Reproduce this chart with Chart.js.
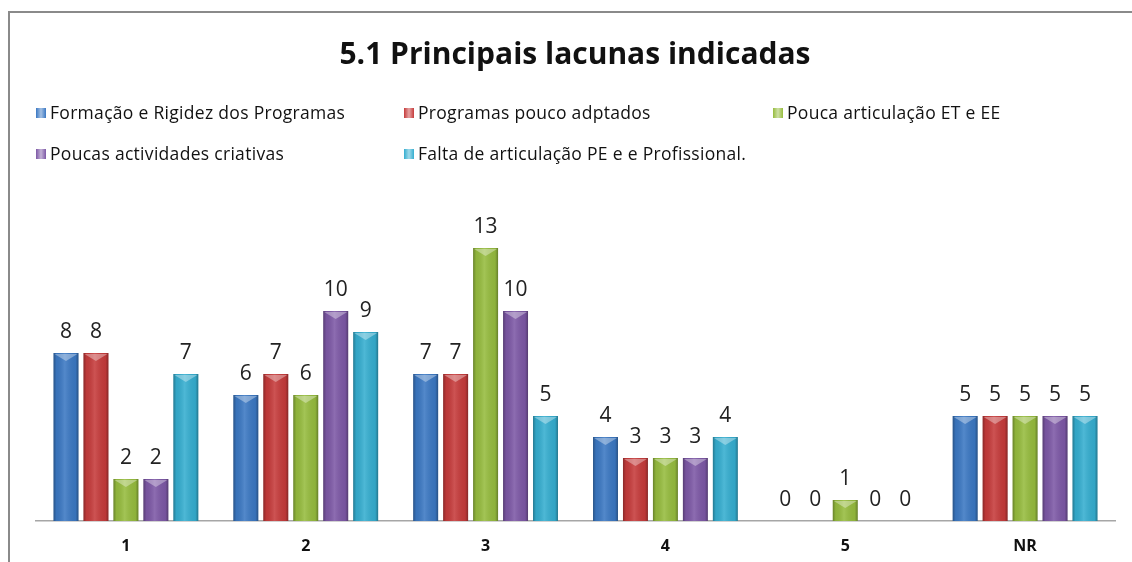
<!DOCTYPE html>
<html>
<head>
<meta charset="utf-8">
<script src="https://cdn.jsdelivr.net/npm/chart.js@4/dist/chart.umd.min.js"></script>
<style>
  html, body { margin: 0; padding: 0; background: #fff; }
  #wrap { position: relative; width: 1132px; height: 562px; overflow: hidden; background: #fff; }
  #frame { position: absolute; left: 8px; top: 11px; width: 1200px; height: 700px; border: 2px solid #8a8a8a; box-sizing: border-box; }
  #title { position: absolute; left: 0; width: 1150px; top: 32px; text-align: center; font-family: "Open Sans", sans-serif; font-weight: 700; font-size: 30px; color: #111; line-height: 42px; }
  .lg { position: absolute; font-family: "Open Sans", sans-serif; font-size: 17.5px; letter-spacing: 0.3px; color: #111; line-height: 20px; white-space: nowrap; }
  .lg i { display: inline-block; width: 10px; height: 10px; margin-right: 4px; vertical-align: 1px; }
  canvas { position: absolute; left: 0; top: 0; }
</style>
</head>
<body>
<div id="wrap">
  <div id="frame"></div>
  <canvas id="c" width="1132" height="562"></canvas>
  <div id="title">5.1 Principais lacunas indicadas</div>
  <div id="legend"></div>
</div>
<script>
const categories = ["1", "2", "3", "4", "5", "NR"];
const seriesNames = [
  "Formação e Rigidez dos Programas",
  "Programas pouco adptados",
  "Pouca articulação ET e EE",
  "Poucas actividades criativas",
  "Falta de articulação PE e e Profissional."
];
const formacaoRigidez = [8, 6, 7, 4, 0, 5];
const programasPoucoAdaptados = [8, 7, 7, 3, 0, 5];
const poucaArticulacaoETEE = [2, 6, 13, 3, 1, 5];
const poucasActividadesCriativas = [2, 10, 10, 3, 0, 5];
const faltaArticulacaoPE = [7, 9, 5, 4, 0, 5];
const seriesValues = [formacaoRigidez, programasPoucoAdaptados, poucaArticulacaoETEE, poucasActividadesCriativas, faltaArticulacaoPE];
const seriesColors = ["#3b78c3", "#c63b3b", "#96bc3e", "#7d58a6", "#35aed0"];

// HTML legend (fixed columns as in the reference)
const legendPos = [[36, 102], [404, 102], [773, 102], [36, 143], [404, 143]];
const lg = document.getElementById('legend');
seriesNames.forEach((n, i) => {
  const d = document.createElement('div');
  d.className = 'lg';
  d.style.left = legendPos[i][0] + 'px';
  d.style.top = legendPos[i][1] + 'px';
  const c = seriesColors[i];
  d.innerHTML = '<i style="background:linear-gradient(90deg,' + c + ' 0%, #ffffff88 50%,' + c + ' 100%);background-color:' + c + '"></i>';
  d.appendChild(document.createTextNode(n));
  lg.appendChild(d);
});

const barStyle = {
  id: 'barStyle',
  afterDatasetsDraw(chart) {
    const ctx = chart.ctx;
    ctx.save();
    chart.data.datasets.forEach((ds, di) => {
      const meta = chart.getDatasetMeta(di);
      meta.data.forEach((el, j) => {
        const v = ds.data[j];
        const left = el.x - el.width / 2, right = el.x + el.width / 2;
        if (v > 0) {
          const g = ctx.createLinearGradient(left, 0, right, 0);
          g.addColorStop(0, 'rgba(0,0,0,0.30)');
          g.addColorStop(0.12, 'rgba(0,0,0,0.05)');
          g.addColorStop(0.45, 'rgba(255,255,255,0.12)');
          g.addColorStop(0.88, 'rgba(0,0,0,0.05)');
          g.addColorStop(1, 'rgba(0,0,0,0.32)');
          ctx.fillStyle = g;
          ctx.fillRect(left, el.y, el.width, el.base - el.y);
          // top bevel
          ctx.fillStyle = 'rgba(255,255,255,0.35)';
          ctx.beginPath();
          ctx.moveTo(left + 1, el.y + 1);
          ctx.lineTo(right - 1, el.y + 1);
          ctx.lineTo(el.x, el.y + 8);
          ctx.closePath();
          ctx.fill();
        }
        // value label
        ctx.fillStyle = '#222';
        ctx.font = '21px "Open Sans", sans-serif';
        ctx.textAlign = 'center';
        ctx.textBaseline = 'alphabetic';
        ctx.fillText(String(v), el.x, el.y - 15);
      });
    });
    ctx.restore();
  }
};

new Chart(document.getElementById('c'), {
  type: 'bar',
  data: {
    labels: categories,
    datasets: seriesNames.map((n, i) => ({
      label: n,
      data: seriesValues[i],
      backgroundColor: seriesColors[i],
      borderWidth: 0,
      categoryPercentage: 0.833,
      barPercentage: 0.833
    }))
  },
  options: {
    responsive: false,
    devicePixelRatio: 1,
    animation: false,
    layout: { padding: { left: 36, right: 17, top: 227, bottom: 0 } },
    plugins: { legend: { display: false }, title: { display: false }, tooltip: { enabled: false } },
    scales: {
      x: {
        grid: { display: false, drawTicks: false },
        border: { display: true, color: '#a6a6a6', width: 1.5 },
        ticks: { color: '#111', font: { family: '"Open Sans", sans-serif', size: 16, weight: 'bold' }, padding: 16 },
        afterFit(scale) { scale.height = 41; }
      },
      y: { display: false, min: 0, max: 14 }
    }
  },
  plugins: [barStyle]
});
</script>
</body>
</html>
